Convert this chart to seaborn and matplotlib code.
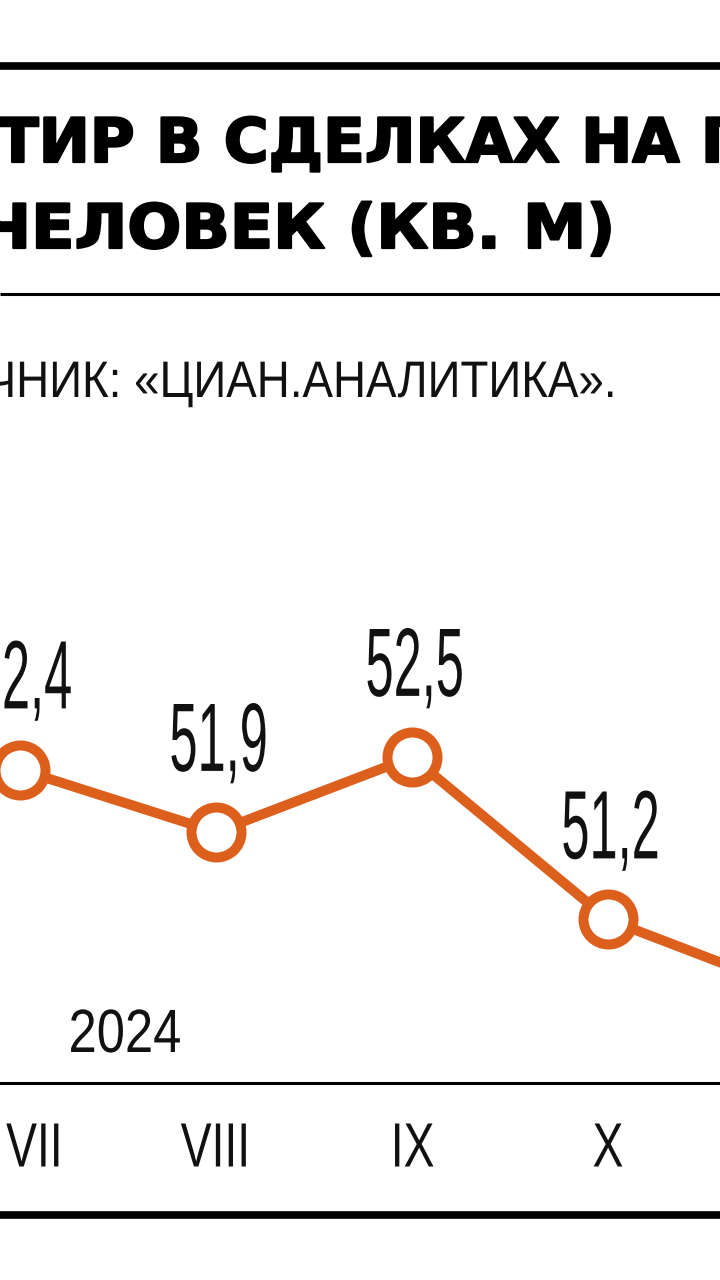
import matplotlib
matplotlib.use("Agg")
import matplotlib.pyplot as plt
import seaborn as sns
import pandas as pd
from matplotlib.lines import Line2D
from matplotlib.patheffects import AbstractPathEffect
from matplotlib.transforms import Affine2D, ScaledTranslation

# --- datos ---
meses = ["VII", "VIII", "IX", "X", "XI"]
superficie = [52.4, 51.9, 52.5, 51.2, 50.6]
etiquetas = ["52,4", "51,9", "52,5", "51,2", "50,6"]
anio = "2024"
titulo_1 = "ТИР В СДЕЛКАХ НА П"
titulo_2 = "ЧЕЛОВЕК (КВ. М)"
fuente = "ИСТОЧНИК: «ЦИАН.АНАЛИТИКА»."

naranja = "#dc5f1c"
negro = "#111111"
W, H = 720, 1280


class Estrechar(AbstractPathEffect):
    """Escala el texto en horizontal (tipo condensada) y opcionalmente lo engrosa."""
    def __init__(self, sx, ancla="center", trazo=0.0):
        super().__init__()
        self.sx = sx
        self.ancla = ancla
        self.trazo = trazo

    def draw_path(self, renderer, gc, tpath, affine, rgbFace=None):
        bb = tpath.get_extents(affine)
        cx = {"left": bb.x0, "right": bb.x1}.get(self.ancla, (bb.x0 + bb.x1) / 2)
        t = affine + Affine2D().translate(-cx, 0).scale(self.sx, 1).translate(cx, 0)
        if self.trazo:
            gc0 = renderer.new_gc()
            gc0.copy_properties(gc)
            gc0.set_linewidth(self.trazo)
            gc0.set_foreground(rgbFace)
            renderer.draw_path(gc0, tpath, t, rgbFace)
            gc0.restore()
        else:
            renderer.draw_path(gc, tpath, t, rgbFace)


def fx(px):
    return px / W


def fy(py):
    return 1 - py / H


sns.set_theme(style="white")
plt.rcParams["font.family"] = ["Liberation Sans", "DejaVu Sans"]
plt.rcParams["text.color"] = negro

fig = plt.figure(figsize=(7.2, 12.8), dpi=100)
fig.patch.set_facecolor("white")

# reglas horizontales
for y, lw in [(66, 5.5), (294, 2.2), (1215, 5.5)]:
    fig.add_artist(Line2D([0, 1], [fy(y), fy(y)], transform=fig.transFigure,
                          color="black", lw=lw, solid_capstyle="butt"))

# titulo
fig.text(fx(-3), fy(162), titulo_1, family=["DejaVu Sans"], fontweight="bold",
         fontsize=44, va="baseline", ha="left", color="black",
         path_effects=[Estrechar(1.0, "left", trazo=1.6)])
fig.text(fx(615), fy(248), titulo_2, family=["DejaVu Sans"], fontweight="bold",
         fontsize=44, va="baseline", ha="right", color="black",
         path_effects=[Estrechar(1.04, "right", trazo=1.6)])

# fuente
fig.text(fx(617), fy(397), fuente, fontsize=37, va="baseline", ha="right",
         path_effects=[Estrechar(0.89, "right")])

# grafico
ax = fig.add_axes([0, 1 - 1083 / H, 1, (1083 - 420) / H])
df = pd.DataFrame({"x": range(len(meses)), "v": superficie})
sns.lineplot(data=df, x="x", y="v", ax=ax, color=naranja, lw=7.2,
             marker="o", markersize=36, markerfacecolor="white",
             markeredgecolor=naranja, markeredgewidth=7.2, zorder=3)

ax.set_xticks(range(len(meses)), meses)
ax.set_xlim(-20 / 196, 700 / 196)
ax.set_ylim(52.5 - (1083 - 757) / 125, 52.5 + (757 - 420) / 125)

for i, (v, t) in enumerate(zip(superficie, etiquetas)):
    ax.annotate(t, (i, v), xytext=(2, 44), textcoords="offset points",
                ha="center", va="baseline", fontsize=70, color=negro,
                path_effects=[Estrechar(0.52)])

ax.tick_params(axis="x", length=0, pad=27, labelsize=45, colors=negro)
for lab in ax.get_xticklabels():
    lab.set_path_effects([Estrechar(0.74)])
# la primera etiqueta queda algo desplazada a la derecha en el original
primera = ax.get_xticklabels()[0]
primera.set_transform(primera.get_transform() + ScaledTranslation(0.15, 0, fig.dpi_scale_trans))
ax.set_yticks([])
ax.set_xlabel("")
ax.set_ylabel("")
sns.despine(ax=ax, left=True, top=True, right=True)
ax.spines["bottom"].set_color("black")
ax.spines["bottom"].set_linewidth(2.2)
ax.patch.set_alpha(0)

fig.text(fx(68), fy(1052), anio, fontsize=44, va="baseline", ha="left",
         path_effects=[Estrechar(0.83, "left")])

fig.savefig("out.png", dpi=100, facecolor="white")
plt.close(fig)
